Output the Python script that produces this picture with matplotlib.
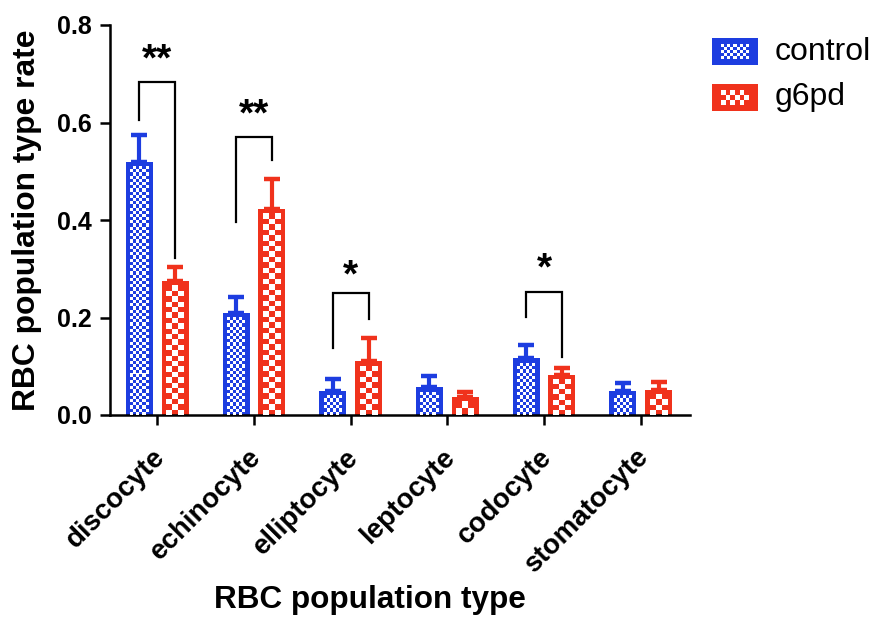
import numpy as np
import matplotlib
matplotlib.use("Agg")
import matplotlib.pyplot as plt
from matplotlib.patches import Rectangle
import matplotlib.transforms as mtransforms

plt.rcParams['font.family'] = ['Liberation Sans', 'DejaVu Sans']

# ---------------- data ----------------
categories = ["discocyte", "echinocyte", "elliptocyte", "leptocyte", "codocyte", "stomatocyte"]
control_mean = [0.520, 0.210, 0.050, 0.057, 0.116, 0.050]
control_err = [0.055, 0.033, 0.024, 0.022, 0.028, 0.016]
g6pd_mean = [0.275, 0.423, 0.110, 0.037, 0.083, 0.052]
g6pd_err = [0.028, 0.062, 0.047, 0.010, 0.013, 0.015]
series_names = ["control", "g6pd"]
yticks = [0.0, 0.2, 0.4, 0.6, 0.8]

# significance: (category index, bracket top, left leg end, right leg end, star baseline, label)
sig_cat = [0, 1, 2, 4]
sig_top = [0.683, 0.570, 0.250, 0.252]
sig_left = [0.605, 0.396, 0.137, 0.201]
sig_right = [0.322, 0.523, 0.197, 0.119]
sig_text_y = [0.706, 0.593, 0.263, 0.277]
sig_label = ["**", "**", "*", "*"]

# ---------------- style ----------------
BLUE = "#1d3de0"
RED = "#f0321c"
W, H = 874, 619
fig = plt.figure(figsize=(W / 100, H / 100), dpi=100)
ax = fig.add_axes([110 / W, 1 - 415 / H, (690 - 110) / W, (415 - 25) / H])

n = len(categories)
x = np.arange(n)
bw = 0.28
off = 0.185
ax.set_xlim(-0.49, n - 1 + 0.51)
ax.set_ylim(0, 0.8)

px_per_x = (ax.transData.transform((1, 0))[0] - ax.transData.transform((0, 0))[0])
px_per_y = (ax.transData.transform((0, 1))[1] - ax.transData.transform((0, 0))[1])


def checker_bar(xc, h, cell_px, border_px):
    # inner checkerboard of a bar, inset by the border
    dx = border_px / px_per_x
    dy = border_px / px_per_y
    x0, x1 = xc - bw / 2 + dx, xc + bw / 2 - dx
    y0, y1 = 0.0, h - dy
    if y1 <= y0:
        return
    wpx = (x1 - x0) * px_per_x
    hpx = (y1 - y0) * px_per_y
    nx = max(1, int(round(wpx / cell_px)))
    ny = max(1, int(round(hpx / cell_px)))
    cw = (x1 - x0) / nx
    ch = (y1 - y0) / ny
    for i in range(ny):
        for j in range(nx):
            if (i + j) % 2 == 0:
                ax.add_patch(Rectangle((x0 + j * cw, y0 + i * ch), cw, ch,
                                       facecolor="white", edgecolor="none",
                                       zorder=3))


means = [control_mean, g6pd_mean]
errs = [control_err, g6pd_err]
colors = [BLUE, RED]
offsets = [-off, off]
cells = [3.2, 5.5]

for s in range(2):
    xs = x + offsets[s]
    ax.errorbar(xs, means[s], yerr=[np.zeros(n), errs[s]], fmt="none",
                ecolor=colors[s], elinewidth=3, capsize=6, capthick=3.2, zorder=1)
    ax.bar(xs, means[s], width=bw, color=colors[s], edgecolor="none", zorder=2)
    for xc, h in zip(xs, means[s]):
        checker_bar(xc, h, cells[s], 4.5)

# significance brackets
for c, t, l, r, ty, lab in zip(sig_cat, sig_top, sig_left, sig_right, sig_text_y, sig_label):
    xl, xr = c - off, c + off
    ax.plot([xl, xl, xr, xr], [l, t, t, r], color="black", lw=1.6,
            solid_joinstyle="miter", zorder=4, clip_on=False)
    ax.text(c, ty, lab, ha="center", va="baseline", fontsize=28,
            fontweight="bold", color="black", zorder=5)

# axes styling
for sp in ["top", "right"]:
    ax.spines[sp].set_visible(False)
for sp in ["left", "bottom"]:
    ax.spines[sp].set_linewidth(1.8)
ax.set_yticks(yticks)
ax.set_yticklabels([f"{v:.1f}" for v in yticks], fontsize=18, fontweight="bold")
ax.set_xticks(x)
ax.set_xticklabels(categories, rotation=45, ha="right", va="top",
                   rotation_mode="anchor", fontsize=20, fontweight="bold")
ax.tick_params(axis="both", length=7, width=1.8, direction="out")
ax.tick_params(axis="y", pad=6)
shift = mtransforms.ScaledTranslation(-4 / 72, -10.5 / 72, fig.dpi_scale_trans)
for lbl in ax.get_xticklabels():
    lbl.set_transform(lbl.get_transform() + shift)

fig.text(370 / W, 1 - 600 / H, "RBC population type", ha="center", va="center",
         fontsize=22.7, fontweight="bold")
fig.text(27 / W, 1 - 220 / H, "RBC population type rate", ha="center", va="center",
         rotation=90, fontsize=22.9, fontweight="bold")

# legend (manual, with checker patches)
leg_boxes = [(712, 38, 46, 27), (712, 84, 46, 27)]
leg_cells = [3.2, 5.0]
for (lx, ly, lw_, lh), col, name, cell in zip(leg_boxes, colors, series_names, leg_cells):
    fx, fy = lx / W, 1 - (ly + lh) / H
    fig.patches.append(Rectangle((fx, fy), lw_ / W, lh / H, transform=fig.transFigure,
                                 facecolor=col, edgecolor="none"))
    ix0, iy0 = lx + 9, ly + 6
    iw, ih = lw_ - 18, lh - 12
    nx = int(round(iw / cell))
    ny = int(round(ih / cell))
    cw, chh = iw / nx, ih / ny
    for i in range(ny):
        for j in range(nx):
            if (i + j) % 2 == 0:
                fig.patches.append(Rectangle(((ix0 + j * cw) / W, 1 - (iy0 + (i + 1) * chh) / H),
                                             cw / W, chh / H, transform=fig.transFigure,
                                             facecolor="white", edgecolor="none"))
    fig.text((lx + lw_ + 17) / W, 1 - (ly + lh / 2) / H, name, ha="left", va="center",
             fontsize=23)

fig.savefig("out.png", dpi=100)
